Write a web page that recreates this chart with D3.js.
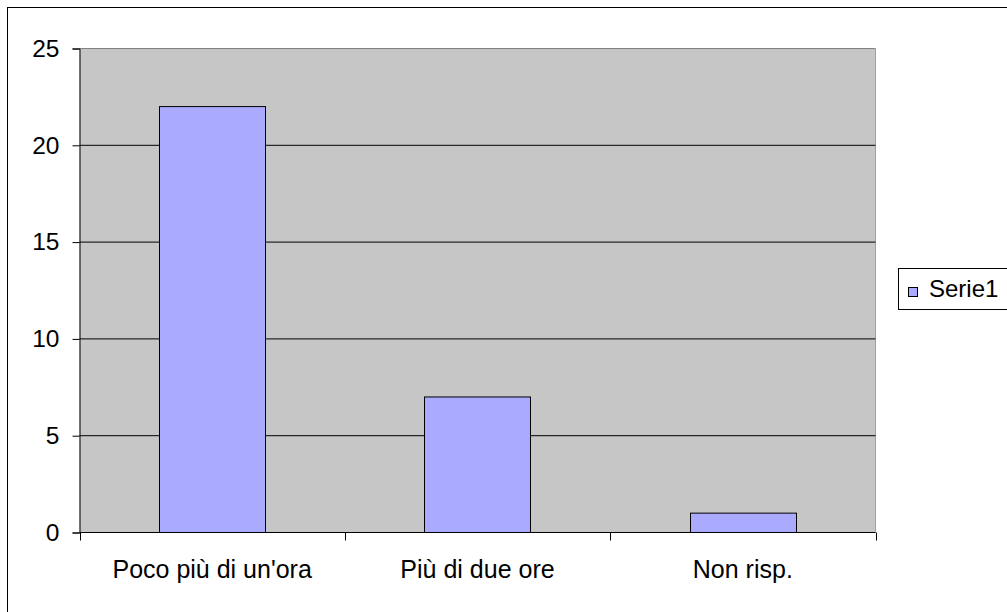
<!DOCTYPE html>
<html>
<head>
<meta charset="utf-8">
<script src="https://cdn.jsdelivr.net/npm/d3@7"></script>
<style>
  body { margin: 0; background: #fff; }
  svg { display: block; font-family: "Liberation Sans", Arial, sans-serif; }
</style>
</head>
<body>
<div id="chart"></div>
<script>
// Chart data
const categories = ["Poco più di un'ora", "Più di due ore", "Non risp."];
const values = [22, 7, 1];
const yTicks = [0, 5, 10, 15, 20, 25];
const seriesName = "Serie1";

const W = 1007, H = 612;
const plot = { left: 79.5, right: 875.5, top: 48.5, bottom: 532.5 };

const svg = d3.select("#chart")
    .append("svg")
    .attr("width", W)
    .attr("height", H);

// Outer frame (cropped on the right and bottom)
svg.append("rect")
    .attr("x", 7.5)
    .attr("y", 7.5)
    .attr("width", W + 20)
    .attr("height", H + 20)
    .attr("fill", "#fff")
    .attr("stroke", "#000")
    .attr("stroke-width", 1);

// Scales
const x = d3.scaleBand()
    .domain(categories)
    .range([plot.left, plot.right])
    .paddingInner(0)
    .paddingOuter(0);

const y = d3.scaleLinear()
    .domain([0, 25])
    .range([plot.bottom, plot.top]);

// Plot background
svg.append("rect")
    .attr("x", plot.left)
    .attr("y", plot.top)
    .attr("width", plot.right - plot.left)
    .attr("height", plot.bottom - plot.top)
    .attr("fill", "#c6c6c6");

// top and right border of plot area
svg.append("line")
    .attr("x1", plot.left).attr("x2", plot.right)
    .attr("y1", plot.top).attr("y2", plot.top)
    .attr("stroke", "#808080");
svg.append("line")
    .attr("x1", plot.right).attr("x2", plot.right)
    .attr("y1", plot.top).attr("y2", plot.bottom)
    .attr("stroke", "#a0a0a0");

// Horizontal grid lines
svg.append("g")
    .selectAll("line")
    .data(yTicks.filter(d => d > 0 && d < 25))
    .enter()
    .append("line")
    .attr("x1", plot.left)
    .attr("x2", plot.right)
    .attr("y1", d => y(d))
    .attr("y2", d => y(d))
    .attr("stroke", "#000")
    .attr("stroke-width", 1);

// Bars
const barW = x.bandwidth() * 0.4;
svg.selectAll("rect.bar")
    .data(values)
    .enter()
    .append("rect")
    .attr("class", "bar")
    .attr("x", (d, i) => Math.round(x(categories[i]) + (x.bandwidth() - barW) / 2) + 0.5)
    .attr("y", d => y(d))
    .attr("width", Math.round(barW))
    .attr("height", d => plot.bottom - y(d))
    .attr("fill", "#aaaaff")
    .attr("stroke", "#000")
    .attr("stroke-width", 1);

// Y axis
const yAxis = svg.append("g")
    .attr("transform", `translate(${plot.left},0)`)
    .call(d3.axisLeft(y).tickValues(yTicks).tickSize(7).tickPadding(13));
yAxis.select(".domain").attr("stroke", "#000");
yAxis.selectAll(".tick line").attr("stroke", "#000");
yAxis.selectAll("text")
    .attr("fill", "#000")
    .style("font-size", "24.5px")
    .style("font-family", "'Liberation Sans', Arial, sans-serif");

// X axis: ticks at category boundaries
const xAxis = svg.append("g")
    .attr("transform", `translate(0,${plot.bottom})`);
xAxis.append("line")
    .attr("x1", plot.left).attr("x2", plot.right)
    .attr("y1", 0).attr("y2", 0)
    .attr("stroke", "#000");
const bounds = categories.map(c => x(c)).concat([x(categories[categories.length - 1]) + x.bandwidth()]);
xAxis.selectAll("line.tick")
    .data(bounds)
    .enter()
    .append("line")
    .attr("class", "tick")
    .attr("x1", d => Math.round(d) + 0.5)
    .attr("x2", d => Math.round(d) + 0.5)
    .attr("y1", 0)
    .attr("y2", 8)
    .attr("stroke", "#000");
xAxis.selectAll("text")
    .data(categories)
    .enter()
    .append("text")
    .attr("x", d => x(d) + x.bandwidth() / 2)
    .attr("y", 45)
    .attr("text-anchor", "middle")
    .style("font-size", "25px")
    .text(d => d);

// Legend
const legend = svg.append("g");
legend.append("rect")
    .attr("x", 898.5)
    .attr("y", 268.5)
    .attr("width", 130)
    .attr("height", 41)
    .attr("fill", "#fff")
    .attr("stroke", "#000");
legend.append("rect")
    .attr("x", 908.5)
    .attr("y", 287.5)
    .attr("width", 9)
    .attr("height", 9)
    .attr("fill", "#aaaaff")
    .attr("stroke", "#000");
legend.append("text")
    .attr("x", 929)
    .attr("y", 297)
    .style("font-size", "24px")
    .text(seriesName);
</script>
</body>
</html>
